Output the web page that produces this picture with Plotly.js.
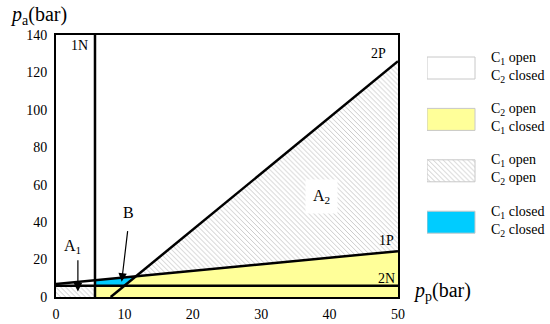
<!DOCTYPE html>
<html>
<head>
<meta charset="utf-8">
<script src="https://cdn.plot.ly/plotly-3.0.1.min.js"></script>
<style>
  html, body { margin: 0; padding: 0; background: #fff; }
  #plot { width: 550px; height: 324px; }
</style>
</head>
<body>
<div id="plot"></div>
<script>
// boundary lines (pp in bar, pa in bar)
const pp1N = [5.7, 5.7], pa1N = [0, 140];
const pp2N = [0, 50],    pa2N = [6, 6];
const pp1P = [0, 50],    pa1P = [7, 24.5];
const pp2P = [8, 50],    pa2P = [0, 126];

const xTicks = [0, 10, 20, 30, 40, 50];
const yTicks = [0, 20, 40, 60, 80, 100, 120, 140];

// legend entries
const legendLabels = [
  'C<sub>1</sub> open<br>C<sub>2</sub> closed',
  'C<sub>2</sub> open<br>C<sub>1</sub> closed',
  'C<sub>1</sub> open<br>C<sub>2</sub> open',
  'C<sub>1</sub> closed<br>C<sub>2</sub> closed'
];
const legendFills = ['white', '#FFFF99', 'hatch', '#00CCFF'];

const YELLOW = '#FFFF99', BLUE = '#00CCFF';
const serif = 'Liberation Serif, Times New Roman, serif';

// helpers for lines
function lineAt(xs, ys, x) {
  return ys[0] + (ys[1] - ys[0]) * (x - xs[0]) / (xs[1] - xs[0]);
}
function xAt(xs, ys, y) {
  return xs[0] + (xs[1] - xs[0]) * (y - ys[0]) / (ys[1] - ys[0]);
}
// intersection 1P / 2P
const k1 = (pa1P[1] - pa1P[0]) / (pp1P[1] - pp1P[0]);
const k2 = (pa2P[1] - pa2P[0]) / (pp2P[1] - pp2P[0]);
const xi = (pa1P[0] - pa2P[0] + k2 * pp2P[0] - k1 * pp1P[0]) / (k2 - k1);
const yi = lineAt(pp1P, pa1P, xi);

const xN = pp1N[0], yN = pa2N[0], xEnd = pp1P[1];
const x2Pat2N = xAt(pp2P, pa2P, yN);

const hatch = { shape: '\\', size: 3.5, fgcolor: '#b4b4b4', bgcolor: 'white', solidity: 0.2 };

function region(x, y, color) {
  const t = { x: x, y: y, type: 'scatter', mode: 'lines', fill: 'toself',
    line: { width: 0 }, hoverinfo: 'skip', showlegend: false };
  if (color === 'hatch') { t.fillcolor = 'white'; t.fillpattern = hatch; }
  else t.fillcolor = color;
  return t;
}
function boundary(x, y) {
  return { x: x, y: y, type: 'scatter', mode: 'lines',
    line: { color: 'black', width: 2.5 }, hoverinfo: 'skip', showlegend: false };
}

const traces = [
  region([xN, xEnd, xEnd, xi, x2Pat2N, xN], [0, 0, lineAt(pp1P, pa1P, xEnd), yi, yN, yN], YELLOW),
  region([xN, x2Pat2N, xi, xN], [yN, yN, yi, lineAt(pp1P, pa1P, xN)], BLUE),
  region([xi, pp2P[1], xEnd], [yi, pa2P[1], lineAt(pp1P, pa1P, xEnd)], 'hatch'),
  region([0, xN, xN, 0], [0, 0, yN, yN], 'hatch'),
  boundary(pp1N, pa1N),
  boundary(pp2N, pa2N),
  boundary(pp1P, pa1P),
  boundary(pp2P, pa2P)
];

// legend swatches on a hidden axis measured in pixels
const swW = 48, swH = 22, swTop = 240, swStep = 51.4;
legendFills.forEach((f, i) => {
  const top = swTop - i * swStep, bot = top - swH;
  const t = region([0, swW, swW, 0, 0], [bot, bot, top, top, bot], f);
  t.xaxis = 'x2'; t.yaxis = 'y2';
  t.mode = 'lines';
  t.line = { color: '#c8c8c8', width: 1 };
  traces.push(t);
});

const annotations = [
  { x: 3.5, y: 134.5, text: '1N' },
  { x: 47.2, y: 130, text: '2P' },
  { x: 48.3, y: 30, text: '1P' },
  { x: 48.3, y: 9.8, text: '2N' },
  { x: 38.8, y: 53.5, text: 'A<sub>2</sub>', bgcolor: 'white', borderpad: 7, size: 16 },
  { x: 2.4, y: 27, text: 'A<sub>1</sub>', size: 16 },
  { x: 10.6, y: 45, text: 'B', size: 16 }
].map(a => ({
  x: a.x, y: a.y, xref: 'x', yref: 'y', text: a.text, showarrow: false,
  font: { family: serif, size: a.size || 14, color: 'black' },
  bgcolor: a.bgcolor, borderpad: a.borderpad || 0
}));

// arrows
annotations.push(
  { x: 3.2, y: 3.0, ax: 3.2, ay: 20.5, xref: 'x', yref: 'y', axref: 'x', ayref: 'y',
    text: '', showarrow: true, arrowhead: 2, arrowsize: 1.4, arrowwidth: 1.2, arrowcolor: 'black' },
  { x: 9.6, y: 8.2, ax: 10.5, ay: 36, xref: 'x', yref: 'y', axref: 'x', ayref: 'y',
    text: '', showarrow: true, arrowhead: 2, arrowsize: 1.4, arrowwidth: 1.2, arrowcolor: 'black' }
);

// axis titles
annotations.push(
  { xref: 'paper', yref: 'paper', x: -0.099, y: 1.073, xanchor: 'left', yanchor: 'middle',
    text: '<i>p</i><sub>a</sub>(bar)', showarrow: false,
    font: { family: serif, size: 20, color: 'black' } },
  { xref: 'paper', yref: 'paper', x: 0.734, y: 0.02, xanchor: 'left', yanchor: 'middle',
    text: '<i>p</i><sub>p</sub>(bar)', showarrow: false,
    font: { family: serif, size: 20, color: 'black' } }
);

// legend text
legendLabels.forEach((lab, i) => {
  annotations.push({
    xref: 'x2', yref: 'y2', x: 62, y: swTop - i * swStep - swH / 2 + 1,
    xanchor: 'left', yanchor: 'middle', align: 'left', showarrow: false, text: lab,
    font: { family: serif, size: 14, color: 'black' }
  });
});

const layout = {
  width: 550, height: 324,
  margin: { l: 56, r: 10, t: 35, b: 27 },
  paper_bgcolor: 'white', plot_bgcolor: 'white',
  showlegend: false,
  font: { family: serif, size: 14, color: 'black' },
  xaxis: {
    domain: [0, 342 / 484], range: [0, 50], tickvals: xTicks, ticktext: xTicks.map(String),
    showgrid: false, zeroline: false, showline: true, mirror: true, linecolor: 'black', linewidth: 2,
    ticks: '', ticklabelstandoff: 3, tickfont: { family: serif, size: 14 }
  },
  yaxis: {
    range: [0, 140], tickvals: yTicks, ticktext: yTicks.map(String),
    showgrid: false, zeroline: false, showline: true, mirror: true, linecolor: 'black', linewidth: 2,
    ticks: '', ticklabelstandoff: 4, tickfont: { family: serif, size: 14 }
  },
  xaxis2: { domain: [371 / 484, 1], range: [0, 113], visible: false, anchor: 'y2' },
  yaxis2: { domain: [0, 1], range: [0, 262], visible: false, anchor: 'x2' },
  annotations: annotations
};

Plotly.newPlot('plot', traces, layout, { displayModeBar: false, staticPlot: true });
</script>
</body>
</html>
